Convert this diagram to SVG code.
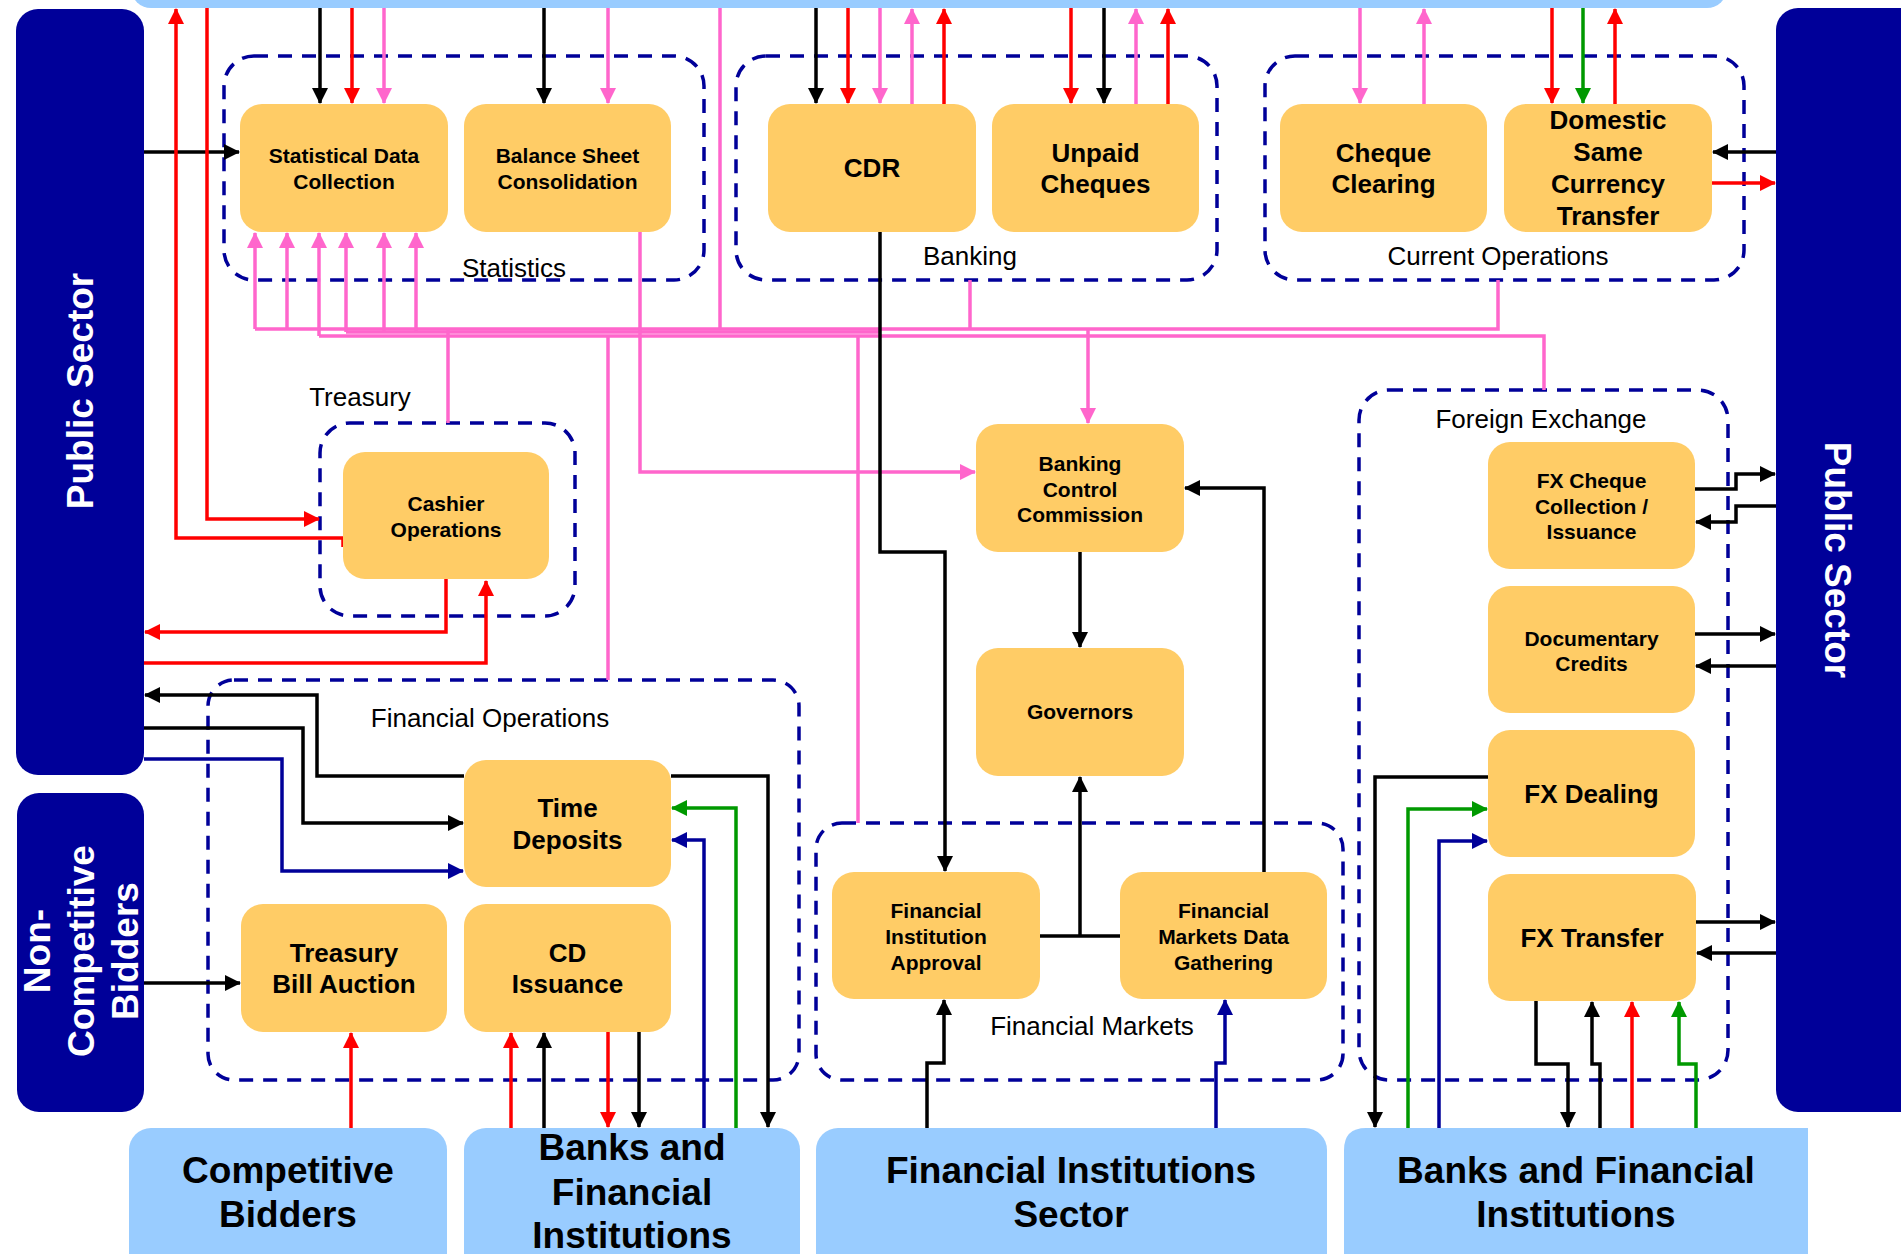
<svg xmlns="http://www.w3.org/2000/svg" width="1901" height="1254" viewBox="0 0 1901 1254">
<style>
.node{fill:#FFCC66}
.ext{fill:#99CCFF}
.ps{fill:#000099}
.grp{fill:none;stroke:#000099;stroke-width:3.5;stroke-dasharray:14 10}
.t{font-family:"Liberation Sans",Arial,sans-serif;font-weight:bold;fill:#000;text-anchor:middle}
.s{font-size:21px}
.m{font-size:26px}
.l{font-size:37px}
.w{fill:#fff;font-size:37px}
.lab{font-family:"Liberation Sans",Arial,sans-serif;font-size:26px;fill:#000;text-anchor:middle}
.c{fill:none;stroke-width:3.5}
.k{stroke:#000}
.r{stroke:#FF0000}
.p{stroke:#FF66CC}
.g{stroke:#009900}
.b{stroke:#000099}
</style>
<defs>
<marker id="ak" markerUnits="userSpaceOnUse" markerWidth="16" markerHeight="16" refX="15" refY="8" orient="auto"><path d="M0,0 L16,8 L0,16 z" fill="#000"/></marker>
<marker id="ar" markerUnits="userSpaceOnUse" markerWidth="16" markerHeight="16" refX="15" refY="8" orient="auto"><path d="M0,0 L16,8 L0,16 z" fill="#FF0000"/></marker>
<marker id="ap" markerUnits="userSpaceOnUse" markerWidth="16" markerHeight="16" refX="15" refY="8" orient="auto"><path d="M0,0 L16,8 L0,16 z" fill="#FF66CC"/></marker>
<marker id="ag" markerUnits="userSpaceOnUse" markerWidth="16" markerHeight="16" refX="15" refY="8" orient="auto"><path d="M0,0 L16,8 L0,16 z" fill="#009900"/></marker>
<marker id="ab" markerUnits="userSpaceOnUse" markerWidth="16" markerHeight="16" refX="15" refY="8" orient="auto"><path d="M0,0 L16,8 L0,16 z" fill="#000099"/></marker>
</defs>
<rect width="1901" height="1254" fill="#fff"/>

<!-- external entities -->
<g id="top-bar"><rect class="ext" x="131" y="-60" width="1596" height="68" rx="20"/></g>
<g id="public-sector-left"><rect class="ps" x="16" y="9" width="128" height="766" rx="22"/>
<text class="t w" transform="translate(93,391) rotate(-90)">Public Sector</text></g>
<g id="public-sector-right"><rect class="ps" x="1776" y="8" width="150" height="1104" rx="22"/>
<text class="t w" transform="translate(1825,560) rotate(90)">Public Sector</text></g>
<g id="non-competitive"><rect class="ps" x="17" y="793" width="127" height="319" rx="22"/>
<text class="t w" transform="translate(50,951) rotate(-90)">Non-</text>
<text class="t w" transform="translate(94,951) rotate(-90)">Competitive</text>
<text class="t w" transform="translate(138,951) rotate(-90)">Bidders</text></g>
<g id="competitive-bidders"><rect class="ext" x="129" y="1128" width="318" height="160" rx="22"/>
<text class="t l" x="288" y="1183">Competitive</text><text class="t l" x="288" y="1227">Bidders</text></g>
<g id="banks-left"><rect class="ext" x="464" y="1128" width="336" height="160" rx="22"/>
<text class="t l" x="632" y="1160">Banks and</text><text class="t l" x="632" y="1205">Financial</text><text class="t l" x="632" y="1248">Institutions</text></g>
<g id="fi-sector"><rect class="ext" x="816" y="1128" width="511" height="160" rx="22"/>
<text class="t l" x="1071" y="1183">Financial Institutions</text><text class="t l" x="1071" y="1227">Sector</text></g>
<g id="banks-right"><path class="ext" d="M1344,1150 Q1344,1128 1366,1128 H1808 V1290 H1344 Z"/>
<text class="t l" x="1576" y="1183">Banks and Financial</text><text class="t l" x="1576" y="1227">Institutions</text></g>

<!-- group containers -->
<g id="grp-statistics"><rect class="grp" x="224" y="56" width="480" height="224" rx="30"/><text class="lab" x="514" y="277">Statistics</text></g>
<g id="grp-banking"><rect class="grp" x="736" y="56" width="481" height="224" rx="30"/><text class="lab" x="970" y="265">Banking</text></g>
<g id="grp-current"><rect class="grp" x="1265" y="56" width="479" height="224" rx="30"/><text class="lab" x="1498" y="265">Current Operations</text></g>
<g id="grp-treasury"><rect class="grp" x="320" y="423" width="255" height="193" rx="30"/><text class="lab" x="360" y="406">Treasury</text></g>
<g id="grp-finops"><rect class="grp" x="208" y="680" width="591" height="400" rx="26"/><text class="lab" x="490" y="727">Financial Operations</text></g>
<g id="grp-finmarkets"><rect class="grp" x="816" y="823" width="527" height="257" rx="26"/><text class="lab" x="1092" y="1035">Financial Markets</text></g>
<g id="grp-fx"><rect class="grp" x="1359" y="390" width="369" height="690" rx="30"/><text class="lab" x="1541" y="428">Foreign Exchange</text></g>

<!-- connectors -->
<g id="connectors">
<path class="c p" d="M1498,280 V329 H255"/>
<path class="c p" d="M1544,390 V336 H319"/>
<path class="c p" d="M346,332 H880"/>
<path class="c p" d="M255,329 V233" marker-end="url(#ap)"/>
<path class="c p" d="M287,329 V233" marker-end="url(#ap)"/>
<path class="c p" d="M319,336 V233" marker-end="url(#ap)"/>
<path class="c p" d="M346,332 V233" marker-end="url(#ap)"/>
<path class="c p" d="M384,332 V233" marker-end="url(#ap)"/>
<path class="c p" d="M416,332 V233" marker-end="url(#ap)"/>
<path class="c p" d="M448,329 V423"/>
<path class="c p" d="M608,336 V680"/>
<path class="c p" d="M640,232 V472 H975" marker-end="url(#ap)"/>
<path class="c p" d="M720,8 V329"/>
<path class="c p" d="M858,336 V823"/>
<path class="c p" d="M970,280 V329"/>
<path class="c p" d="M1088,329 V423" marker-end="url(#ap)"/>

<path class="c k" d="M320,8 V103" marker-end="url(#ak)"/>
<path class="c r" d="M352,8 V103" marker-end="url(#ar)"/>
<path class="c p" d="M384,8 V103" marker-end="url(#ap)"/>
<path class="c k" d="M544,8 V103" marker-end="url(#ak)"/>
<path class="c p" d="M608,8 V103" marker-end="url(#ap)"/>
<path class="c k" d="M816,8 V103" marker-end="url(#ak)"/>
<path class="c r" d="M848,8 V103" marker-end="url(#ar)"/>
<path class="c p" d="M880,8 V103" marker-end="url(#ap)"/>
<path class="c p" d="M912,104 V9" marker-end="url(#ap)"/>
<path class="c r" d="M944,104 V9" marker-end="url(#ar)"/>
<path class="c r" d="M1071,8 V103" marker-end="url(#ar)"/>
<path class="c k" d="M1104,8 V103" marker-end="url(#ak)"/>
<path class="c p" d="M1136,104 V9" marker-end="url(#ap)"/>
<path class="c r" d="M1168,104 V9" marker-end="url(#ar)"/>
<path class="c p" d="M1360,8 V103" marker-end="url(#ap)"/>
<path class="c p" d="M1424,104 V9" marker-end="url(#ap)"/>
<path class="c r" d="M1552,8 V103" marker-end="url(#ar)"/>
<path class="c g" d="M1583,8 V103" marker-end="url(#ag)"/>
<path class="c r" d="M1615,104 V9" marker-end="url(#ar)"/>

<path class="c k" d="M144,152 H239" marker-end="url(#ak)"/>
<path class="c k" d="M1776,152 H1713" marker-end="url(#ak)"/>
<path class="c r" d="M1712,183 H1775" marker-end="url(#ar)"/>
<path class="c r" d="M343,547 V538 H176 V9" marker-end="url(#ar)"/>
<path class="c r" d="M207,8 V519 H319" marker-end="url(#ar)"/>
<path class="c r" d="M446,579 V632 H145" marker-end="url(#ar)"/>
<path class="c r" d="M144,663 H486 V581" marker-end="url(#ar)"/>

<path class="c k" d="M464,776 H317 V695 H145" marker-end="url(#ak)"/>
<path class="c k" d="M144,728 H303 V823 H463" marker-end="url(#ak)"/>
<path class="c b" d="M144,759 H282 V871 H463" marker-end="url(#ab)"/>
<path class="c k" d="M671,776 H768 V1127" marker-end="url(#ak)"/>
<path class="c g" d="M736,1128 V808 H672" marker-end="url(#ag)"/>
<path class="c b" d="M704,1128 V840 H672" marker-end="url(#ab)"/>
<path class="c k" d="M144,983 H240" marker-end="url(#ak)"/>
<path class="c r" d="M351,1128 V1033" marker-end="url(#ar)"/>
<path class="c r" d="M511,1128 V1033" marker-end="url(#ar)"/>
<path class="c k" d="M544,1128 V1033" marker-end="url(#ak)"/>
<path class="c r" d="M608,1032 V1127" marker-end="url(#ar)"/>
<path class="c k" d="M639,1032 V1127" marker-end="url(#ak)"/>

<path class="c k" d="M880,232 V552 H945 V871" marker-end="url(#ak)"/>
<path class="c k" d="M1080,552 V647" marker-end="url(#ak)"/>
<path class="c k" d="M1040,936 H1120"/>
<path class="c k" d="M1080,936 V777" marker-end="url(#ak)"/>
<path class="c k" d="M1264,872 V488 H1185" marker-end="url(#ak)"/>
<path class="c k" d="M927,1128 V1063 H944 V1000" marker-end="url(#ak)"/>
<path class="c b" d="M1216,1128 V1063 H1225 V1000" marker-end="url(#ab)"/>

<path class="c k" d="M1695,489 H1736 V474 H1775" marker-end="url(#ak)"/>
<path class="c k" d="M1776,506 H1736 V522 H1696" marker-end="url(#ak)"/>
<path class="c k" d="M1695,634 H1775" marker-end="url(#ak)"/>
<path class="c k" d="M1776,666 H1696" marker-end="url(#ak)"/>
<path class="c k" d="M1696,922 H1775" marker-end="url(#ak)"/>
<path class="c k" d="M1776,953 H1697" marker-end="url(#ak)"/>
<path class="c k" d="M1488,777 H1375 V1127" marker-end="url(#ak)"/>
<path class="c g" d="M1408,1128 V809 H1487" marker-end="url(#ag)"/>
<path class="c b" d="M1439,1128 V841 H1487" marker-end="url(#ab)"/>
<path class="c k" d="M1536,1001 V1064 H1568 V1127" marker-end="url(#ak)"/>
<path class="c k" d="M1600,1128 V1064 H1592 V1002" marker-end="url(#ak)"/>
<path class="c r" d="M1632,1128 V1002" marker-end="url(#ar)"/>
<path class="c g" d="M1696,1128 V1064 H1679 V1002" marker-end="url(#ag)"/>
</g>

<!-- nodes -->
<g id="statistical-data"><rect class="node" x="240" y="104" width="208" height="128" rx="22"/><text class="t s" x="344" y="163">Statistical Data</text><text class="t s" x="344" y="189">Collection</text></g>
<g id="balance-sheet"><rect class="node" x="464" y="104" width="207" height="128" rx="22"/><text class="t s" x="567.5" y="163">Balance Sheet</text><text class="t s" x="567.5" y="189">Consolidation</text></g>
<g id="cdr"><rect class="node" x="768" y="104" width="208" height="128" rx="22"/><text class="t m" x="872" y="177">CDR</text></g>
<g id="unpaid-cheques"><rect class="node" x="992" y="104" width="207" height="128" rx="22"/><text class="t m" x="1095.5" y="162">Unpaid</text><text class="t m" x="1095.5" y="193">Cheques</text></g>
<g id="cheque-clearing"><rect class="node" x="1280" y="104" width="207" height="128" rx="22"/><text class="t m" x="1383.5" y="162">Cheque</text><text class="t m" x="1383.5" y="193">Clearing</text></g>
<g id="domestic-transfer"><rect class="node" x="1504" y="104" width="208" height="128" rx="22"/><text class="t m" x="1608" y="129">Domestic</text><text class="t m" x="1608" y="161">Same</text><text class="t m" x="1608" y="193">Currency</text><text class="t m" x="1608" y="225">Transfer</text></g>
<g id="cashier"><rect class="node" x="343" y="452" width="206" height="127" rx="22"/><text class="t s" x="446" y="511">Cashier</text><text class="t s" x="446" y="537">Operations</text></g>
<g id="bcc"><rect class="node" x="976" y="424" width="208" height="128" rx="22"/><text class="t s" x="1080" y="471">Banking</text><text class="t s" x="1080" y="497">Control</text><text class="t s" x="1080" y="522">Commission</text></g>
<g id="governors"><rect class="node" x="976" y="648" width="208" height="128" rx="22"/><text class="t s" x="1080" y="719">Governors</text></g>
<g id="fi-approval"><rect class="node" x="832" y="872" width="208" height="127" rx="22"/><text class="t s" x="936" y="918">Financial</text><text class="t s" x="936" y="944">Institution</text><text class="t s" x="936" y="970">Approval</text></g>
<g id="fm-data"><rect class="node" x="1120" y="872" width="207" height="127" rx="22"/><text class="t s" x="1223.5" y="918">Financial</text><text class="t s" x="1223.5" y="944">Markets Data</text><text class="t s" x="1223.5" y="970">Gathering</text></g>
<g id="time-deposits"><rect class="node" x="464" y="760" width="207" height="127" rx="22"/><text class="t m" x="567.5" y="817">Time</text><text class="t m" x="567.5" y="849">Deposits</text></g>
<g id="tbill-auction"><rect class="node" x="241" y="904" width="206" height="128" rx="22"/><text class="t m" x="344" y="962">Treasury</text><text class="t m" x="344" y="993">Bill Auction</text></g>
<g id="cd-issuance"><rect class="node" x="464" y="904" width="207" height="128" rx="22"/><text class="t m" x="567.5" y="962">CD</text><text class="t m" x="567.5" y="993">Issuance</text></g>
<g id="fx-cheque"><rect class="node" x="1488" y="442" width="207" height="127" rx="22"/><text class="t s" x="1591.5" y="488">FX Cheque</text><text class="t s" x="1591.5" y="514">Collection /</text><text class="t s" x="1591.5" y="539">Issuance</text></g>
<g id="documentary"><rect class="node" x="1488" y="586" width="207" height="127" rx="22"/><text class="t s" x="1591.5" y="646">Documentary</text><text class="t s" x="1591.5" y="671">Credits</text></g>
<g id="fx-dealing"><rect class="node" x="1488" y="730" width="207" height="127" rx="22"/><text class="t m" x="1591.5" y="803">FX Dealing</text></g>
<g id="fx-transfer"><rect class="node" x="1488" y="874" width="208" height="127" rx="22"/><text class="t m" x="1592" y="947">FX Transfer</text></g>
</svg>
